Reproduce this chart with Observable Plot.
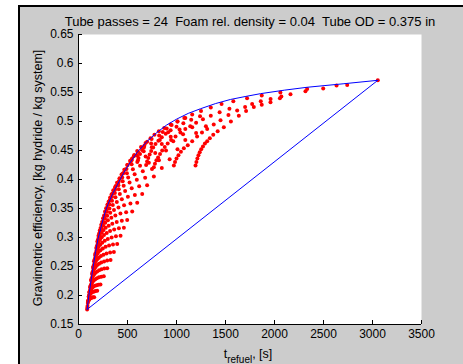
<!DOCTYPE html>
<html><head><meta charset="utf-8">
<script src="https://cdn.jsdelivr.net/npm/d3@7"></script>
<script src="https://cdn.jsdelivr.net/npm/@observablehq/plot@0.6"></script>
<style>
body{margin:0;background:#fff;}
#fig{position:relative;width:463px;height:364px;overflow:hidden;font-family:"Liberation Sans",Arial,sans-serif;}
#bg{position:absolute;left:18px;top:5px;right:0;bottom:0;background:#ccc;border-left:2px solid #000;border-top:2px solid #000;}
#fig svg{position:absolute;left:0;top:0;}
</style></head><body><div id="fig"><div id="bg"></div></div>
<script>
const titleText = "Tube passes = 24  Foam rel. density = 0.04  Tube OD = 0.375 in";
const yLabelText = "Gravimetric efficiency, [kg hydride / kg system]";
const xTicks = [0, 500, 1000, 1500, 2000, 2500, 3000, 3500];
const yTicks = [0.15, 0.2, 0.25, 0.3, 0.35, 0.4, 0.45, 0.5, 0.55, 0.6, 0.65];

// lower families of dots (t_refuel [s], efficiency)
const lowerT = [
[88,90,92,95],
[98,99,101,104,107,110,115,122,129,138,149,160],
[104,106,108,112,116,121,128,137,148,161,175,191],
[110,112,116,120,126,133,142,153,167,184,203,224],
[118,121,125,131,138,146,157,171,188,209,233,258],
[128,131,136,143,151,161,174,191,211,235,263,293],
[138,142,147,155,164,176,191,210,232,261,293,327],
[148,152,159,167,178,191,208,229,255,286,323,361],
[158,163,170,179,191,205,224,248,277,312,352,395],
[169,174,182,192,205,221,242,268,299,338,382,429],
[181,187,195,206,220,237,260,288,322,364,412,463],
[192,198,207,219,235,253,277,308,345,390,442,497],
[204,211,221,235,252,273,300,335,376,428,486,548],
[217,225,236,251,270,293,324,362,408,465,530,599],
[233,241,254,271,291,316,350,391,442,504,575,650],
[252,261,274,292,315,342,377,422,476,543,619,700],
[272,282,297,317,342,371,411,461,521,595,680,769],
[296,307,324,346,374,407,451,507,573,656,750,850],
[325,337,355,380,410,446,494,555,628,718,821,930],
[360,373,393,419,451,490,542,607,685,783,893,1010],
[405,419,439,467,501,542,597,665,748,850,967,1090],
[460,475,497,527,564,608,667,741,830,941,1067,1200],
[530,545,569,599,638,684,746,823,915,1031,1161,1300]
];
const lowerY = [
[.176,.179,.182,.187],
[.190,.1906,.1914,.1922,.1929,.1937,.1945,.1952,.1958,.1964,.1968,.197],
[.198,.1989,.200,.2011,.2022,.2033,.2044,.2054,.2063,.2071,.2077,.208],
[.205,.2063,.2078,.2093,.2109,.2124,.2140,.2154,.2166,.2177,.2186,.219],
[.214,.2157,.2178,.2199,.2220,.2241,.2262,.2281,.2298,.2313,.2324,.233],
[.226,.2279,.2302,.2325,.2348,.2371,.2394,.2415,.2434,.2451,.2464,.247],
[.237,.2392,.2418,.2444,.2471,.2497,.2524,.2548,.2569,.2588,.2603,.261],
[.248,.2504,.2534,.2564,.2593,.2623,.2653,.268,.2704,.2726,.2742,.275],
[.259,.2617,.265,.2683,.2716,.2749,.2782,.2812,.2839,.2863,.2881,.289],
[.270,.273,.2766,.2802,.2839,.2875,.2911,.2944,.2974,.300,.302,.303],
[.282,.2852,.289,.2929,.2967,.3006,.3044,.3079,.3111,.3139,.316,.317],
[.293,.2963,.3004,.3045,.3085,.3126,.3167,.3204,.3237,.3267,.3289,.330],
[.303,.3068,.3114,.316,.3206,.3253,.3299,.3341,.3379,.3412,.3437,.345],
[.312,.3163,.3216,.3269,.3322,.3374,.3427,.3475,.3518,.3557,.3586,.360],
[.322,.3268,.3326,.3384,.3443,.3501,.3559,.3612,.366,.3702,.3734,.375],
[.333,.3381,.3444,.3507,.3569,.3632,.3695,.3752,.3803,.3849,.3883,.390],
[.345,.3504,.357,.3636,.3702,.3768,.3834,.3894,.3948,.3996,.4032,.405],
[.356,.3618,.3688,.3758,.3829,.3899,.397,.4034,.4091,.4142,.4181,.420],
[.368,.374,.3814,.3888,.3961,.4035,.4109,.4176,.4236,.429,.433,.435],
[.380,.3865,.3944,.4023,.4102,.4182,.4261,.4333,.4398,.4455,.4498,.452],
[.394,.4007,.4088,.4169,.4251,.4332,.4414,.4488,.4554,.4613,.4658,.468],
[.411,.4172,.4248,.4324,.44,.4476,.4552,.4621,.4683,.4738,.4779,.480],
[.430,.4356,.4424,.4492,.456,.4629,.4697,.4759,.4815,.4864,.4901,.492]
];
// upper families of dots
const upperT = [
[600,612,628,648,672,700,735,775,820,875,940,1010,1090],
[690,700,712,726,742,762,786,815,850,890,940,1000,1070,1150,1240],
[769,780,795,812,832,854,880,910,945,990,1040,1090,1140,1200,1270,1350,1440,1540],
[973,985,1000,1020,1045,1075,1115,1160,1210,1260,1313,1380,1449,1530,1619,1700,1772,1860,1960,2070],
[1194,1203,1213,1224,1237,1252,1270,1290,1313,1340,1375,1420,1483,1555,1636,1710,1789,1870,1959,2055,2163,2316,2497,2742],
[860,900,950,1010,1080,1160,1250,1350,1460,1580,1720,1870,2060,2333,2633,3054]
];
const upperY = [
[.430,.437,.444,.451,.458,.465,.471,.477,.483,.489,.495,.500,.506],
[.425,.431,.437,.443,.449,.455,.461,.467,.473,.479,.485,.491,.497,.503,.509],
[.421,.427,.433,.438,.444,.450,.456,.462,.468,.474,.481,.487,.492,.498,.504,.510,.516,.522],
[.424,.430,.436,.442,.448,.454,.459,.466,.474,.481,.487,.495,.502,.511,.519,.525,.530,.535,.539,.543],
[.424,.430,.436,.442,.447,.452,.457,.462,.466,.471,.477,.483,.490,.500,.510,.518,.525,.529,.533,.540,.547,.552,.557,.563],
[.482,.488,.494,.500,.506,.512,.518,.524,.530,.535,.540,.545,.550,.556,.562,.571]
];
// Pareto envelope (blue)
const frontT = [88,100,110,130,150,175,200,225,250,276,300,350,400,463,530,600,700,800,900,1000,1120,1245,1400,1551,1700,1857,2100,2333,2700,3054];
const frontY = [.176,.192,.205,.228,.250,.276,.298,.315,.331,.346,.357,.376,.392,.412,.430,.447,.466,.481,.494,.504,.514,.522,.531,.538,.543,.548,.554,.559,.565,.571];
// straight connecting line
const chordT = [88, 3054];
const chordY = [.176, .571];

const dots = [];
[[lowerT, lowerY], [upperT, upperY]].forEach(([T, Y]) => T.forEach((row, i) => row.forEach((t, j) => dots.push({t, y: Y[i][j]}))));
const front = frontT.map((t, i) => ({t, y: frontY[i]}));
const chord = chordT.map((t, i) => ({t, y: chordY[i]}));

const fmtY = d => String(+d.toFixed(2));
const fmtX = d => String(d);

const svg = Plot.plot({
  width: 463, height: 364,
  marginLeft: 78, marginRight: 42, marginTop: 34, marginBottom: 40,
  style: {background: "transparent", fontSize: "12px", fontFamily: "'Liberation Sans', Arial, sans-serif", color: "#000", overflow: "visible"},
  x: {domain: [0, 3500]},
  y: {domain: [0.15, 0.65]},
  marks: [
    Plot.frame({fill: "white", stroke: "none"}),
    Plot.dot(dots, {x: "t", y: "y", r: 2, fill: "#ff0000", stroke: "none"}),
    Plot.line(front, {x: "t", y: "y", stroke: "#0000ff", strokeWidth: 1}),
    Plot.line(chord, {x: "t", y: "y", stroke: "#0000ff", strokeWidth: 1}),
    Plot.ruleX([0], {stroke: "#000"}),
    Plot.ruleY([0.15], {stroke: "#000"}),
    Plot.tickX(xTicks, {x: d => d, insetTop: 286, stroke: "#000"}),
    Plot.tickY(yTicks, {y: d => d, insetRight: 339, stroke: "#000"}),
    Plot.axisX(xTicks, {tickSize: 0, tickPadding: 5, label: null, tickFormat: fmtX, fill: "#000"}),
    Plot.axisY(yTicks, {tickSize: 0, tickPadding: 5, label: null, tickFormat: fmtY, fill: "#000"})
  ]
});
document.getElementById("fig").appendChild(svg);

const s = d3.select(svg);
s.append("text").attr("x", 250).attr("y", 26).attr("text-anchor", "middle")
  .attr("font-size", 13).attr("fill", "#000").text(titleText);
const xl = s.append("text").attr("x", 248).attr("y", 358).attr("text-anchor", "middle")
  .attr("font-size", 12.5).attr("fill", "#000");
xl.append("tspan").text("t");
xl.append("tspan").attr("font-size", 10).attr("dy", 5).text("refuel");
xl.append("tspan").attr("dy", -5).text(", [s]");
s.append("text").attr("transform", "translate(42,178) rotate(-90)").attr("text-anchor", "middle")
  .attr("font-size", 12.5).attr("fill", "#000").text(yLabelText);
</script></body></html>
